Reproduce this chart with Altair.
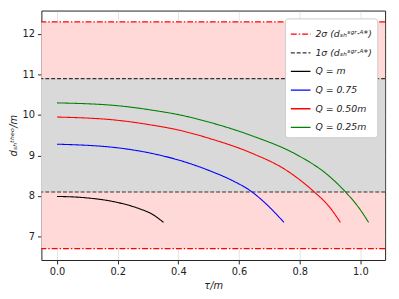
import altair as alt
import pandas as pd

# Curves: tau/m vs d_sh^theo/m
tau_q1 = [0.0, 0.097, 0.2, 0.27, 0.314, 0.351]
d_q1 = [7.99, 7.955, 7.84, 7.69, 7.55, 7.35]

tau_q075 = [0.0, 0.2, 0.314, 0.4, 0.508, 0.573, 0.641, 0.69, 0.748]
d_q075 = [9.28, 9.19, 9.05, 8.89, 8.61, 8.40, 8.11, 7.80, 7.35]

tau_q050 = [0.0, 0.2, 0.314, 0.4, 0.508, 0.638, 0.755, 0.848, 0.897, 0.934]
d_q050 = [9.95, 9.87, 9.75, 9.63, 9.41, 9.07, 8.64, 8.10, 7.74, 7.35]

tau_q025 = [0.0, 0.2, 0.314, 0.4, 0.508, 0.638, 0.8, 0.886, 0.951, 0.995, 1.027]
d_q025 = [10.30, 10.23, 10.12, 10.01, 9.81, 9.50, 8.98, 8.56, 8.10, 7.71, 7.35]

sigma2 = [6.7, 12.3]
sigma1 = [8.1, 10.9]

labels = ["2σ (dₛₕˢᵍʳ·ᴬ*)", "1σ (dₛₕˢᵍʳ·ᴬ*)", "Q = m", "Q = 0.75", "Q = 0.50m", "Q = 0.25m"]
colors = ["#ff0000", "#333333", "#000000", "#0000ff", "#ff0000", "#008000"]
dashes = [[6, 2, 1.5, 2], [4, 2], [1, 0], [1, 0], [1, 0], [1, 0]]

rows = []
for lab, ts, ds in [(labels[2], tau_q1, d_q1), (labels[3], tau_q075, d_q075),
                    (labels[4], tau_q050, d_q050), (labels[5], tau_q025, d_q025)]:
    for i, (t, d) in enumerate(zip(ts, ds)):
        rows.append({"series": lab, "tau": t, "d": d, "order": i})
curves = pd.DataFrame(rows)

rules = pd.DataFrame(
    [{"series": labels[0], "d": v} for v in sigma2] +
    [{"series": labels[1], "d": v} for v in sigma1]
)

band2 = pd.DataFrame([{"lo": sigma2[0], "hi": sigma2[1]}])
band1 = pd.DataFrame([{"lo": sigma1[0], "hi": sigma1[1]}])

W, H = 350, 254
xscale = alt.Scale(domain=[-0.0515, 1.0815], nice=False, zero=False)
yscale = alt.Scale(domain=[6.42, 12.58], nice=False, zero=False)

leg = dict(title=None, orient="top-right", offset=8,
           symbolType="stroke", symbolSize=400,
           symbolStrokeWidth=1.3, labelFontSize=9.5, labelFontStyle="italic",
           labelFont="DejaVu Sans", labelColor="#222222", fillColor="white",
           strokeColor="#cccccc", cornerRadius=3,
           padding=5, rowPadding=3, labelLimit=200, labelOffset=4)

color = alt.Color("series:N", scale=alt.Scale(domain=labels, range=colors),
                  legend=alt.Legend(**leg))
dash = alt.StrokeDash("series:N", scale=alt.Scale(domain=labels, range=dashes),
                      legend=alt.Legend(**leg))

band2_layer = alt.Chart(band2).mark_rect(fill="#ffd8d8").encode(
    x=alt.value(0), x2=alt.value(W),
    y=alt.Y("lo:Q", scale=yscale), y2="hi:Q",
)
band1_layer = alt.Chart(band1).mark_rect(fill="#d9d9d9").encode(
    x=alt.value(0), x2=alt.value(W),
    y=alt.Y("lo:Q", scale=yscale), y2="hi:Q",
)

rule_layer = alt.Chart(rules).mark_rule(strokeWidth=1.1).encode(
    y=alt.Y("d:Q", scale=yscale),
    color=color, strokeDash=dash,
)

line_layer = alt.Chart(curves).mark_line(strokeWidth=1.1, interpolate="monotone").encode(
    x=alt.X("tau:Q", scale=xscale,
            axis=alt.Axis(title="τ/m", values=[0, 0.2, 0.4, 0.6, 0.8, 1.0], format=".1f")),
    y=alt.Y("d:Q", scale=yscale,
            axis=alt.Axis(title="dₛₕᵗʰᵉᵒ/m", values=[7, 8, 9, 10, 11, 12], format="d")),
    order="order:Q",
    color=color, strokeDash=dash,
)

chart = alt.layer(band2_layer, band1_layer, rule_layer, line_layer).properties(
    width=W, height=H,
    padding={"left": 0, "top": 0, "right": 5, "bottom": 0},
).configure_view(
    stroke="#222222", strokeWidth=1
).configure_axis(
    labelFont="DejaVu Sans", titleFont="DejaVu Sans",
    labelFontSize=10, titleFontSize=10, labelColor="#222222", titleColor="#222222",
    titleFontWeight="normal", titleFontStyle="italic", tickColor="#222222", tickSize=4,
    domain=False, grid=True, gridColor="#b0b0b0", gridOpacity=0.35,
    zindex=1, labelPadding=3, titlePadding=4,
)

chart.save("out.html", embed_options={"renderer": "svg", "actions": False})
